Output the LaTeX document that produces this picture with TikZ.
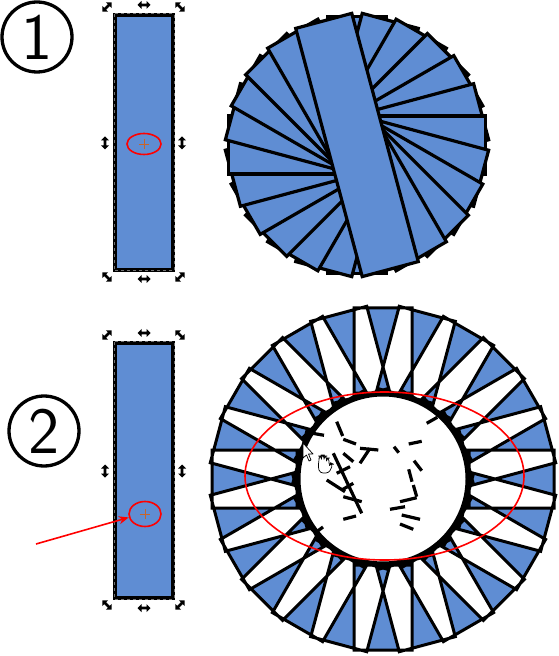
\documentclass[tikz,border=0pt]{standalone}
\usetikzlibrary{shapes.geometric, arrows.meta}
\definecolor{barblue}{HTML}{5F8DD3}
\definecolor{markred}{HTML}{FF0000}
\definecolor{pivotorange}{HTML}{C8642A}

% small double arrow used as a selection handle
\newcommand{\grip}[3]{\fill[shift={(#1,#2)}, rotate=#3] (-6.5,0) -- (-2.5,-4) -- (-2.5,-1.3) -- (2.5,-1.3) -- (2.5,-4) -- (6.5,0) -- (2.5,4) -- (2.5,1.3) -- (-2.5,1.3) -- (-2.5,4) -- cycle;}

\begin{document}
\begin{tikzpicture}[x=0.5pt, y=-0.5pt,
    numeral/.style={circle, draw=black, line width=1.65pt, minimum size=35pt, inner sep=0pt,
        font=\sffamily\fontsize{33}{33}\selectfont},
    bar/.style={fill=barblue, draw=black, line width=1.6pt},
    selframe/.style={draw=black!55, line width=0.5pt, dash pattern=on 1.5pt off 1.5pt},
    selring/.style={ellipse, draw=markred, line width=0.8pt, inner sep=0pt},
    pivot/.style={draw=pivotorange, line width=0.4pt},
    redline/.style={draw=markred, line width=0.8pt},
    scrap/.style={draw=black, line width=1.6pt},
    pointer/.style={fill=white, draw=black, line width=0.35pt, line join=round}]
    \useasboundingbox (0,0) rectangle (558,656);

    % === 1: rotation around the centre ===
    \node[numeral] (one) at (37,37) {1};
    \draw[bar] (115,15) rectangle (173,270);
    \draw[selframe] (114,14) rectangle (174,271);
    \grip{107}{7}{45} \grip{144}{5}{0} \grip{180}{7}{-45}
    \grip{105}{143}{90} \grip{182}{143}{90}
    \grip{107}{277}{-45} \grip{144}{279}{0} \grip{180}{277}{45}
    \node[selring, minimum width=17pt, minimum height=10.5pt] (sel1) at (144,144) {};
    \draw[pivot] (139,144) -- (149,144) (144,139) -- (144,149);
    \begin{scope}[shift={(357,145)}]
        \foreach \k in {0,...,11}
            \draw[bar, rotate=-15*\k] (-29,-128.5) rectangle (29,128.5);
    \end{scope}

    % === 2: rotation around a lower point ===
    \node[numeral] (two) at (44,431) {2};
    \draw[bar] (115,343) rectangle (173,598);
    \draw[selframe] (114,342) rectangle (174,599);
    \grip{107}{335}{45} \grip{144}{333}{0} \grip{180}{335}{-45}
    \grip{105}{471}{90} \grip{182}{471}{90}
    \grip{107}{605}{-45} \grip{144}{608}{0} \grip{180}{605}{45}
    \node[selring, minimum width=16pt, minimum height=12.5pt] (sel2) at (145,514) {};
    \draw[pivot] (140,514) -- (150,514) (145,509) -- (145,519);
    \coordinate (tail) at (36,544);
    \draw[redline, -{Stealth[length=5pt, width=4pt]}] (tail) -- (sel2.192);

    \begin{scope}[shift={(383,479)}]
        \path[fill=barblue, even odd rule, draw=black, line width=1.5pt]
            \foreach \a in {0,15,...,345} {
                ({-29*cos(\a)+171*sin(\a)}, {-29*sin(\a)-171*cos(\a)}) --
                ({29*cos(\a)+171*sin(\a)}, {29*sin(\a)-171*cos(\a)}) --
                ({29*cos(\a)-86*sin(\a)}, {29*sin(\a)+86*cos(\a)}) --
                ({-29*cos(\a)-86*sin(\a)}, {-29*sin(\a)+86*cos(\a)}) -- cycle
            };
        \filldraw[fill=white, draw=black, line width=2.5pt] (0,0) circle (85);
    \end{scope}
    % leftover bits of outline inside the hole
    \foreach \xa/\ya/\xb/\yb in {336.7/421.7/342.7/436, 343.3/439.3/356/444,
        360/448.3/378.3/450, 370/448.3/360/463.3, 343.3/453.3/353.3/461.7,
        333.3/453.3/361.7/513.3, 336.7/473.3/350/466.7, 326.7/480/345/491.7,
        341.7/490/353.3/483.3, 343.3/496.7/361.7/501.7, 343.3/519.3/356/516,
        394/446.7/398.7/452.7, 408.7/444/421.7/441.3, 414/460.7/421.7/470.7,
        408.7/469.3/412/481.7, 413.3/485/416.7/496.7, 400/501.7/416.7/497.7,
        390/509.3/405/506.7, 401.7/515/420/519.3, 400/524/413.3/529.3,
        426.7/423.3/437.3/417.3, 312.7/433.3/324/435.3, 315/533/323/527}
        \draw[scrap] (\xa,\ya) -- (\xb,\yb);
    \draw[redline] (384.5,476) ellipse [x radius=139.5, y radius=84];

    % mouse pointer and hand
    \draw[pointer] (303,443) -- (303,458) -- (306.5,455) -- (309,461) -- (311,460) -- (308.5,454) -- (313,454) -- cycle;
    \draw[pointer, rounded corners=1.5pt] (319,461) -- (319,456) -- (321.5,456) -- (321.5,461)
        -- (321.5,455) -- (324,455) -- (324,461) -- (324,456) -- (326.5,456) -- (326.5,461)
        -- (326.5,458) -- (329,458) -- (329,466) -- (331,463) -- (333,464) -- (329,473)
        -- (320,473) -- (318,467) -- cycle;
\end{tikzpicture}
\end{document}
